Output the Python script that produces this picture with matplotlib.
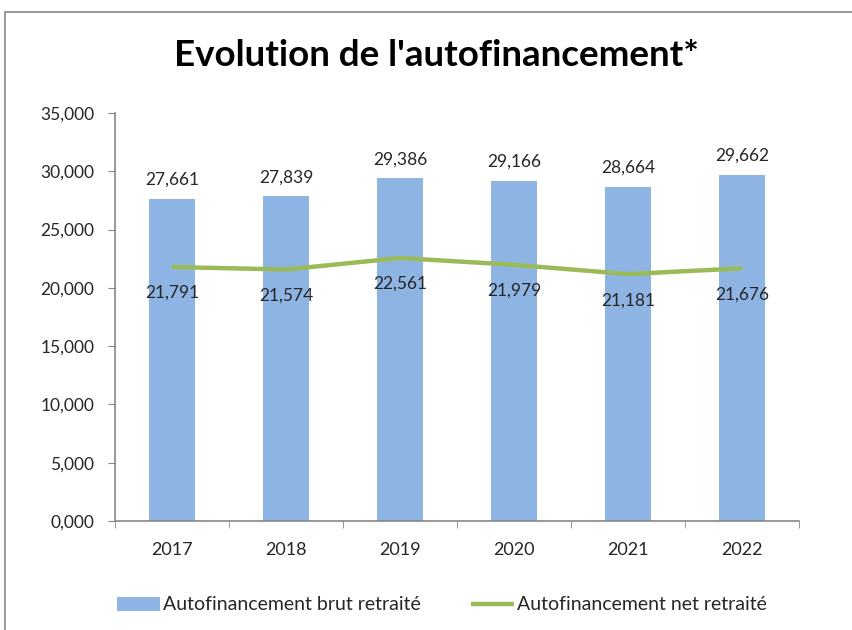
import matplotlib.pyplot as plt
from matplotlib.patches import Rectangle
from matplotlib.ticker import FuncFormatter, FixedLocator
import numpy as np

plt.rcParams['font.family'] = ['Lato', 'DejaVu Sans']

annees = ['2017', '2018', '2019', '2020', '2021', '2022']
brut = [27.661, 27.839, 29.386, 29.166, 28.664, 29.662]
net = [21.791, 21.574, 22.561, 21.979, 21.181, 21.676]

bleu = '#8EB4E3'
vert = '#9BBB59'
gris = '#868686'
texte = '#262626'


def fr(v):
    return f"{v:.3f}".replace('.', ',')


fig = plt.figure(figsize=(8.52, 6.3), dpi=100)

# cadre du graphique (Excel)
fig.patches.append(Rectangle((5 / 852, -0.01), 1.0, 1 - 12 / 630 + 0.01,
                             transform=fig.transFigure, fill=False,
                             ec=gris, lw=1.2))

ax = fig.add_axes([115 / 852, 109 / 630, 684 / 852, 408 / 630])
x = np.arange(len(annees))

barres = ax.bar(x, brut, width=0.4, color=bleu, zorder=2,
                label='Autofinancement brut retraité')
ligne, = ax.plot(x, net, color=vert, lw=3.2, solid_capstyle='butt', zorder=3,
                 label='Autofinancement net retraité')

for xi, v in zip(x, brut):
    ax.annotate(fr(v), (xi, v), xytext=(0, 8), textcoords='offset points',
                ha='center', va='bottom', fontsize=12.5, color=texte)
for xi, v in zip(x, net):
    ax.annotate(fr(v), (xi, v), xytext=(0, -13), textcoords='offset points',
                ha='center', va='top', fontsize=12.5, color=texte)

ax.set_xlim(-0.5, len(annees) - 0.5)
ax.set_ylim(0, 35)
ax.set_yticks(np.arange(0, 36, 5))
ax.yaxis.set_major_formatter(FuncFormatter(lambda v, p: fr(v)))
ax.set_xticks(x)
ax.set_xticklabels(annees)
ax.xaxis.set_minor_locator(FixedLocator(np.arange(-0.5, len(annees), 1)))

ax.tick_params(axis='y', length=5, color=gris, labelsize=12.5, labelcolor=texte, pad=10)
ax.tick_params(axis='x', which='major', length=0, labelsize=13, labelcolor=texte, pad=15)
ax.tick_params(axis='x', which='minor', length=5, color=gris)

for s in ['top', 'right']:
    ax.spines[s].set_visible(False)
for s in ['left', 'bottom']:
    ax.spines[s].set_color(gris)
    ax.spines[s].set_linewidth(1.2)

fig.text(436 / 852, 1 - 55 / 630, "Evolution de l'autofinancement*",
         ha='center', va='center', fontsize=26.5, fontweight='bold', color='black')

leg = fig.legend(handles=[barres, ligne], loc='center', ncol=2,
                 bbox_to_anchor=(442 / 852, 1 - 605 / 630), frameon=False,
                 fontsize=14, handlelength=2.2, handletextpad=0.15,
                 columnspacing=2.6)
for t in leg.get_texts():
    t.set_color(texte)

fig.savefig('out.png', dpi=100)
